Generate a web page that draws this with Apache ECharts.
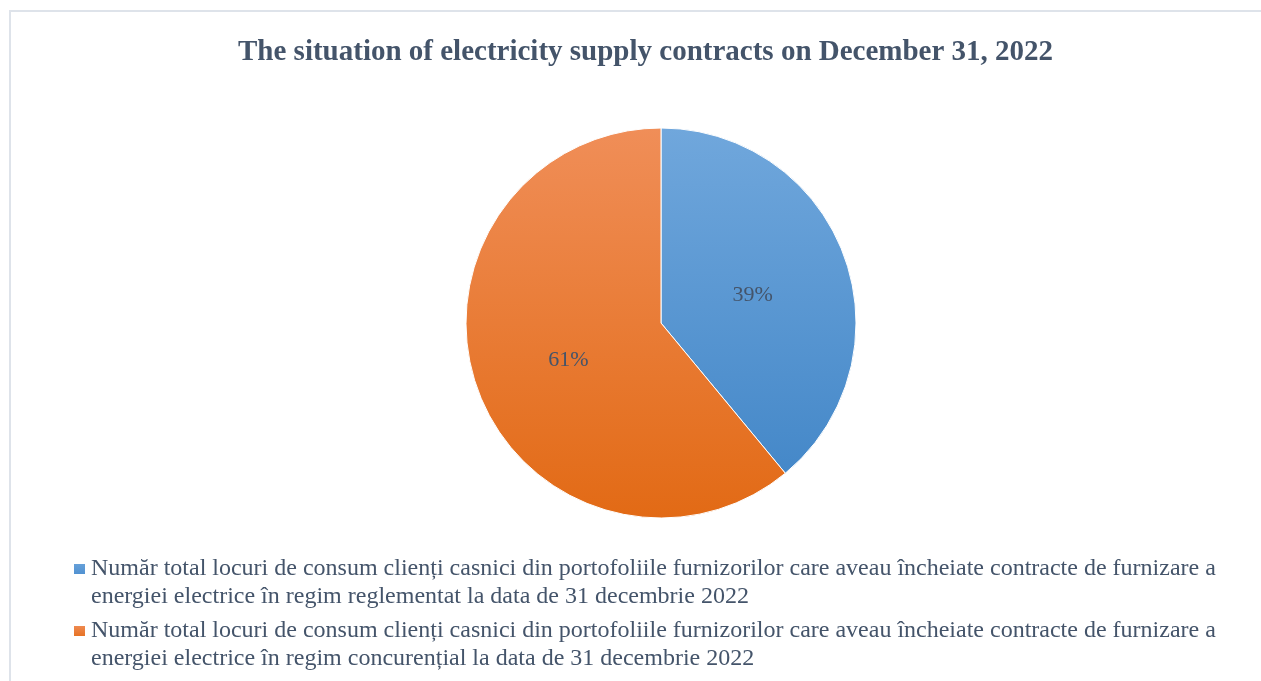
<!DOCTYPE html>
<html>
<head>
<meta charset="utf-8">
<script src="https://cdn.jsdelivr.net/npm/echarts@6/dist/echarts.min.js"></script>
<style>
  html, body { margin: 0; padding: 0; background: #fff; }
  #chart { width: 1261px; height: 681px; }
</style>
</head>
<body>
<div id="chart"></div>
<script>
// date din grafic
var categories = [
  'Număr total locuri de consum clienți casnici din portofoliile furnizorilor care aveau încheiate contracte de furnizare a energiei electrice în regim reglementat la data de 31 decembrie 2022',
  'Număr total locuri de consum clienți casnici din portofoliile furnizorilor care aveau încheiate contracte de furnizare a energiei electrice în regim concurențial la data de 31 decembrie 2022'
];
var values = [39, 61];
var titleText = 'The situation of electricity supply contracts on December 31, 2022';

var serif = '"Liberation Serif", "DejaVu Serif", serif';
var textColor = '#44546A';

// gradient pe toata placinta (coordonate globale)
var fills = [
  new echarts.graphic.LinearGradient(0, 128, 0, 518, [
    {offset: 0, color: '#70A7DC'},
    {offset: 1, color: '#3F84C6'}
  ], true),
  new echarts.graphic.LinearGradient(0, 128, 0, 518, [
    {offset: 0, color: '#F08E58'},
    {offset: 1, color: '#E26A15'}
  ], true)
];
// iconite legenda
var legendFills = [
  new echarts.graphic.LinearGradient(0, 0, 0, 1, [
    {offset: 0, color: '#6AA3DA'}, {offset: 1, color: '#4D8FD0'}
  ]),
  new echarts.graphic.LinearGradient(0, 0, 0, 1, [
    {offset: 0, color: '#F08E58'}, {offset: 1, color: '#E56E1C'}
  ])
];
var labelOffsets = [[-3, 6], [2, 3]];

var myChart = echarts.init(document.getElementById('chart'));
var option = {
  animation: false,
  backgroundColor: '#fff',
  title: {
    text: titleText,
    left: 233,
    top: 33,
    textStyle: {
      fontFamily: serif,
      fontSize: 29,
      fontWeight: 'bold',
      color: textColor
    }
  },
  graphic: [{
    type: 'rect',
    shape: {x: 10, y: 11, width: 1300, height: 700},
    style: {fill: null, stroke: '#DEE3EA', lineWidth: 2},
    silent: true
  }],
  legend: {
    orient: 'vertical',
    left: 72,
    top: 527,
    height: 400,
    padding: 0,
    itemWidth: 13,
    itemHeight: 12,
    itemGap: -22,
    icon: 'rect',
    data: categories.map(function (name, i) {
      return {name: name, itemStyle: {color: legendFills[i]}};
    }),
    // linie goala sus ca patratul sa stea langa primul rand
    formatter: function (name) {
      return '\n' + name.replace(' energiei', '\nenergiei');
    },
    textStyle: {
      fontFamily: serif,
      fontSize: 24,
      lineHeight: 28,
      color: textColor
    }
  },
  series: [{
    type: 'pie',
    center: [661, 323],
    radius: [0, 195],
    startAngle: 90,
    clockwise: true,
    avoidLabelOverlap: false,
    itemStyle: {borderColor: '#fff', borderWidth: 1},
    label: {
      show: true,
      position: 'inside',
      formatter: '{c}%',
      fontFamily: serif,
      fontSize: 22,
      color: textColor
    },
    labelLine: {show: false},
    emphasis: {disabled: true},
    data: categories.map(function (name, i) {
      return {
        name: name,
        value: values[i],
        itemStyle: {color: fills[i]},
        label: {offset: labelOffsets[i]}
      };
    })
  }]
};
myChart.setOption(option);
</script>
</body>
</html>
